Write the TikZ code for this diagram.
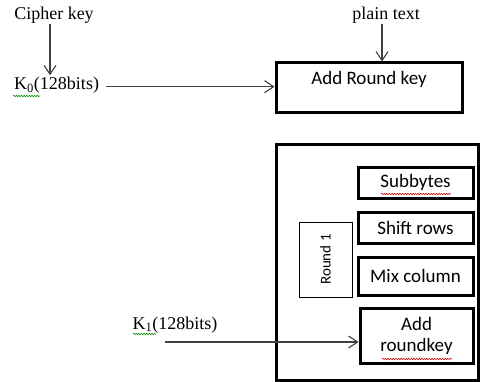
\documentclass[tikz,border=0pt]{standalone}
\usepackage{fontspec}
\setmainfont{Liberation Serif}
\newfontfamily\calfont{Carlito}
\usetikzlibrary{arrows.meta,decorations.pathmorphing}
\begin{document}
\begin{tikzpicture}[x=1pt,y=-1pt,
  serif/.style={font=\fontsize{18}{20}\selectfont, inner sep=1pt},
  thickbox/.style={draw=black, line width=3pt, font=\calfont\fontsize{19}{21}\selectfont, align=center, inner sep=0pt},
  thinbox/.style={draw=black, line width=0.9pt, font=\calfont\fontsize{15}{17}\selectfont, inner sep=0pt},
  arr/.style={draw=black!75, line width=1.1pt, -{Straight Barb[length=9pt,width=12pt,line width=1.1pt]}},
  squig/.style={line width=0.6pt, decorate, decoration={snake, amplitude=0.7pt, segment length=2.6pt}}
]
\useasboundingbox (0,0) rectangle (481,382);

% top part
\node[serif] (cipher) at (54,15) {Cipher key};
\node[serif, anchor=base west, inner sep=2pt] (k0) at (12,90) {K\textsubscript{0}(128bits)};
\node[serif] (plain) at (386,15) {plain text};
\node[thickbox, minimum width=186, minimum height=50, text height=13pt, text depth=19pt] (addrk) at (369,88) {Add Round key};

\draw[arr] ([xshift=-4pt]cipher.south) -- ([xshift=-4pt]cipher.south |- k0.north);
\draw[arr] ([xshift=5pt,yshift=-1pt]k0.east) -- ([yshift=-1pt]k0.east -| addrk.west);
\draw[arr] ([xshift=-4pt]plain.south) -- ([xshift=-4pt]plain.south |- addrk.north);

% round box
\node[draw=black, line width=3pt, minimum width=202, minimum height=235, inner sep=0pt] (round) at (377,262.5) {};
\node[thickbox, minimum width=115, minimum height=31] (sub) at (415.5,182.5) {Subbytes};
\node[thickbox, minimum width=115, minimum height=31] (shift) at (415.5,227.5) {Shift rows};
\node[thickbox, minimum width=115, minimum height=38] (mix) at (415.5,276) {Mix column};
\node[thickbox, minimum width=113, minimum height=55] (addrk2) at (416.5,335.5) {Add\\roundkey};
\node[thinbox, rotate=90, minimum width=75, minimum height=53] (round1) at (325.5,259.5) {Round 1};

% K1 input
\node[serif] (k1) at (175,325) {K\textsubscript{1}(128bits)};
\coordinate (k1s) at (165,342);
\draw[arr] (k1s) -- (k1s -| addrk2.west);

% spell-check underlines
\draw[squig, draw=green!55!black] (13,96) -- (40,96);
\draw[squig, draw=green!55!black] (133,334) -- (156,334);
\draw[squig, draw=red!80!black] (381,194) -- (451,194);
\draw[squig, draw=red!80!black] (382,359) -- (452,359);
\end{tikzpicture}
\end{document}
